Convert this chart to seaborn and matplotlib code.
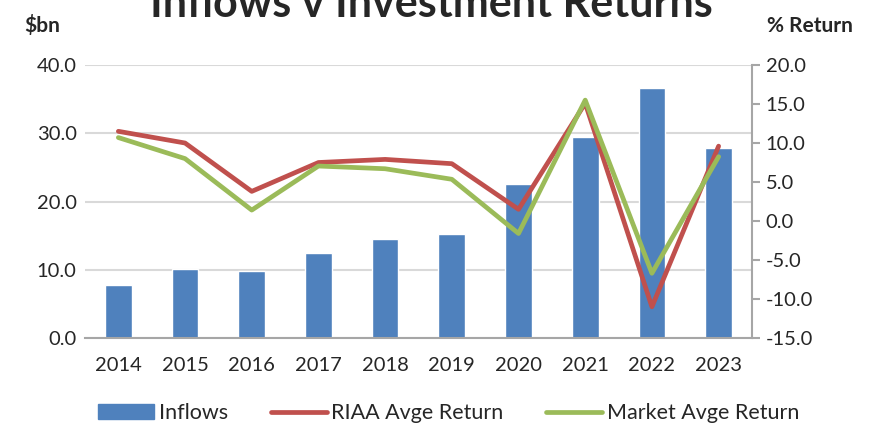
import numpy as np
import pandas as pd
import seaborn as sns
import matplotlib.pyplot as plt
from matplotlib.lines import Line2D
from matplotlib.patches import Patch
from matplotlib.ticker import FormatStrFormatter, MultipleLocator

# chart values
years = ['2014', '2015', '2016', '2017', '2018', '2019', '2020', '2021', '2022', '2023']
inflows = [7.7, 10.1, 9.8, 12.5, 14.5, 15.2, 22.6, 29.4, 36.6, 27.9]
riaa_return = [11.5, 10.0, 3.8, 7.5, 7.9, 7.35, 1.5, 15.1, -11.0, 9.6]
market_return = [10.7, 8.0, 1.4, 7.05, 6.7, 5.35, -1.6, 15.5, -6.7, 8.25]

blue = '#4F81BD'
red = '#C0504D'
green = '#9BBB59'

sns.set_style('white')
plt.rcParams['font.family'] = ['Lato', 'DejaVu Sans']

df = pd.DataFrame({'year': years, 'inflows': inflows,
                   'riaa': riaa_return, 'market': market_return})

fig = plt.figure(figsize=(8.8, 4.25), dpi=100)
ax = fig.add_axes([0.0966, 0.2047, 0.7579, 0.6423])

sns.barplot(data=df, x='year', y='inflows', color=blue, width=0.4,
            saturation=1, ax=ax, zorder=2)
ax.set_ylim(0, 40)
ax.yaxis.set_major_locator(MultipleLocator(10))
ax.yaxis.set_major_formatter(FormatStrFormatter('%.1f'))
ax.grid(axis='y', color='#D9D9D9', linewidth=1.5, zorder=0)
ax.set_axisbelow(True)
ax.set_xlabel('')
ax.set_ylabel('')
ax.set_xlim(-0.5, 9.5)
for side in ['left', 'top', 'right']:
    ax.spines[side].set_visible(False)
ax.spines['bottom'].set_color('#A6A6A6')
ax.spines['bottom'].set_linewidth(1.5)
ax.tick_params(axis='both', labelsize=14.5, length=0, pad=6)
ax.tick_params(axis='x', pad=14)

ax2 = ax.twinx()
sns.lineplot(x=np.arange(len(years)), y=df['riaa'], color=red, linewidth=3.4,
             ax=ax2, zorder=3)
sns.lineplot(x=np.arange(len(years)), y=df['market'], color=green, linewidth=3.4,
             ax=ax2, zorder=4)
ax2.set_ylim(-15, 20)
ax2.yaxis.set_major_locator(MultipleLocator(5))
ax2.yaxis.set_major_formatter(FormatStrFormatter('%.1f'))
ax2.set_ylabel('')
ax2.set_xlabel('')
for side in ['left', 'top', 'bottom']:
    ax2.spines[side].set_visible(False)
ax2.spines['right'].set_color('#A6A6A6')
ax2.spines['right'].set_linewidth(1.5)
ax2.tick_params(axis='y', labelsize=14.5, length=6, width=1.5, color='#A6A6A6',
                direction='out', pad=4)
ax2.set_xlim(-0.5, 9.5)

fig.text(0.49, 0.99, 'Inflows v Investment Returns', ha='center', va='center',
         fontsize=31, fontweight='bold')
fig.text(0.048, 0.94, '$bn', ha='center', va='center', fontsize=15,
         fontweight='bold')
fig.text(0.92, 0.94, '% Return', ha='center', va='center', fontsize=15,
         fontweight='bold')

handles = [Patch(color=blue, label='Inflows'),
           Line2D([0], [0], color=red, lw=3.4, label='RIAA Avge Return'),
           Line2D([0], [0], color=green, lw=3.4, label='Market Avge Return')]
fig.legend(handles=handles, loc='center', bbox_to_anchor=(0.51, 0.028),
           ncol=3, frameon=False, fontsize=15.5, handlelength=2.6,
           handletextpad=0.2, columnspacing=2.0)

fig.savefig('out.png', dpi=100)
